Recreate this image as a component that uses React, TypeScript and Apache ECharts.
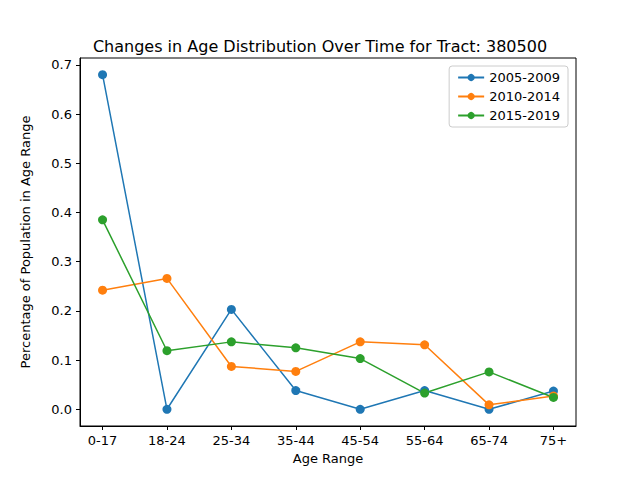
import React, { useEffect, useRef } from "react";
import * as echarts from "echarts";

const categories = ["0-17", "18-24", "25-34", "35-44", "45-54", "55-64", "65-74", "75+"];
const s2005 = [0.68, 0.0, 0.203, 0.038, 0.0, 0.038, 0.0, 0.037];
const s2010 = [0.242, 0.266, 0.087, 0.077, 0.137, 0.131, 0.009, 0.027];
const s2015 = [0.385, 0.119, 0.137, 0.125, 0.103, 0.033, 0.076, 0.024];
const yTicks = [0, 0.1, 0.2, 0.3, 0.4, 0.5, 0.6, 0.7];
const names = ["2005-2009", "2010-2014", "2015-2019"];
const colors = ["#1f77b4", "#ff7f0e", "#2ca02c"];

export default function App() {
  const ref = useRef<HTMLDivElement>(null);
  useEffect(() => {
    const chart = echarts.init(ref.current!, null, { renderer: "svg" });
    const font = "DejaVu Sans";
    const mk = (name: string, data: number[], i: number) => ({
      name,
      type: "line",
      data: data.map((v, j) => [j, v]),
      symbol: "circle",
      symbolSize: 9,
      color: colors[i],
      lineStyle: { width: 1.5, color: colors[i] },
      itemStyle: { color: colors[i] },
    });
    chart.setOption({
      animation: false,
      textStyle: { fontFamily: font },
      title: {
        text: "Changes in Age Distribution Over Time for Tract: 380500",
        left: "center",
        top: 33,
        textStyle: { fontFamily: font, fontSize: 16, fontWeight: "normal", color: "#000" },
      },
      legend: {
        data: names,
        orient: "vertical",
        right: 72,
        top: 66,
        borderColor: "#ccc",
        borderWidth: 1,
        borderRadius: 3,
        padding: [5, 8, 5, 8],
        itemGap: 6,
        itemWidth: 26,
        itemHeight: 9,
        textStyle: { fontFamily: font, fontSize: 13, color: "#000" },
      },
      grid: { left: 80, right: 64, top: 58, bottom: 54, show: true, borderColor: "#000", borderWidth: 1 },
      xAxis: {
        type: "value",
        min: -0.35,
        max: 7.35,
        name: "Age Range",
        nameLocation: "middle",
        nameGap: 26,
        nameTextStyle: { fontFamily: font, fontSize: 13, color: "#000" },
        splitLine: { show: false },
        axisLine: { onZero: false, lineStyle: { color: "#000" } },
        axisTick: { show: true, length: 4, customValues: categories.map((_, i) => i), lineStyle: { color: "#000" } },
        axisLabel: {
          customValues: categories.map((_, i) => i),
          formatter: (v: number) => categories[Math.round(v)] ?? "",
          fontFamily: font,
          fontSize: 13,
          color: "#000",
        },
      },
      yAxis: {
        type: "value",
        min: -0.034,
        max: 0.714,
        name: "Percentage of Population in Age Range",
        nameLocation: "middle",
        nameGap: 48,
        nameTextStyle: { fontFamily: font, fontSize: 13, color: "#000" },
        splitLine: { show: false },
        axisLine: { show: true, onZero: false, lineStyle: { color: "#000" } },
        axisTick: { show: true, length: 4, customValues: yTicks, lineStyle: { color: "#000" } },
        axisLabel: {
          customValues: yTicks,
          formatter: (v: number) => v.toFixed(1),
          fontFamily: font,
          fontSize: 13,
          color: "#000",
        },
      },
      series: [mk(names[0], s2005, 0), mk(names[1], s2010, 1), mk(names[2], s2015, 2)],
    });
    return () => chart.dispose();
  }, []);
  return <div ref={ref} style={{ width: 640, height: 480, margin: -8 }} />;
}
